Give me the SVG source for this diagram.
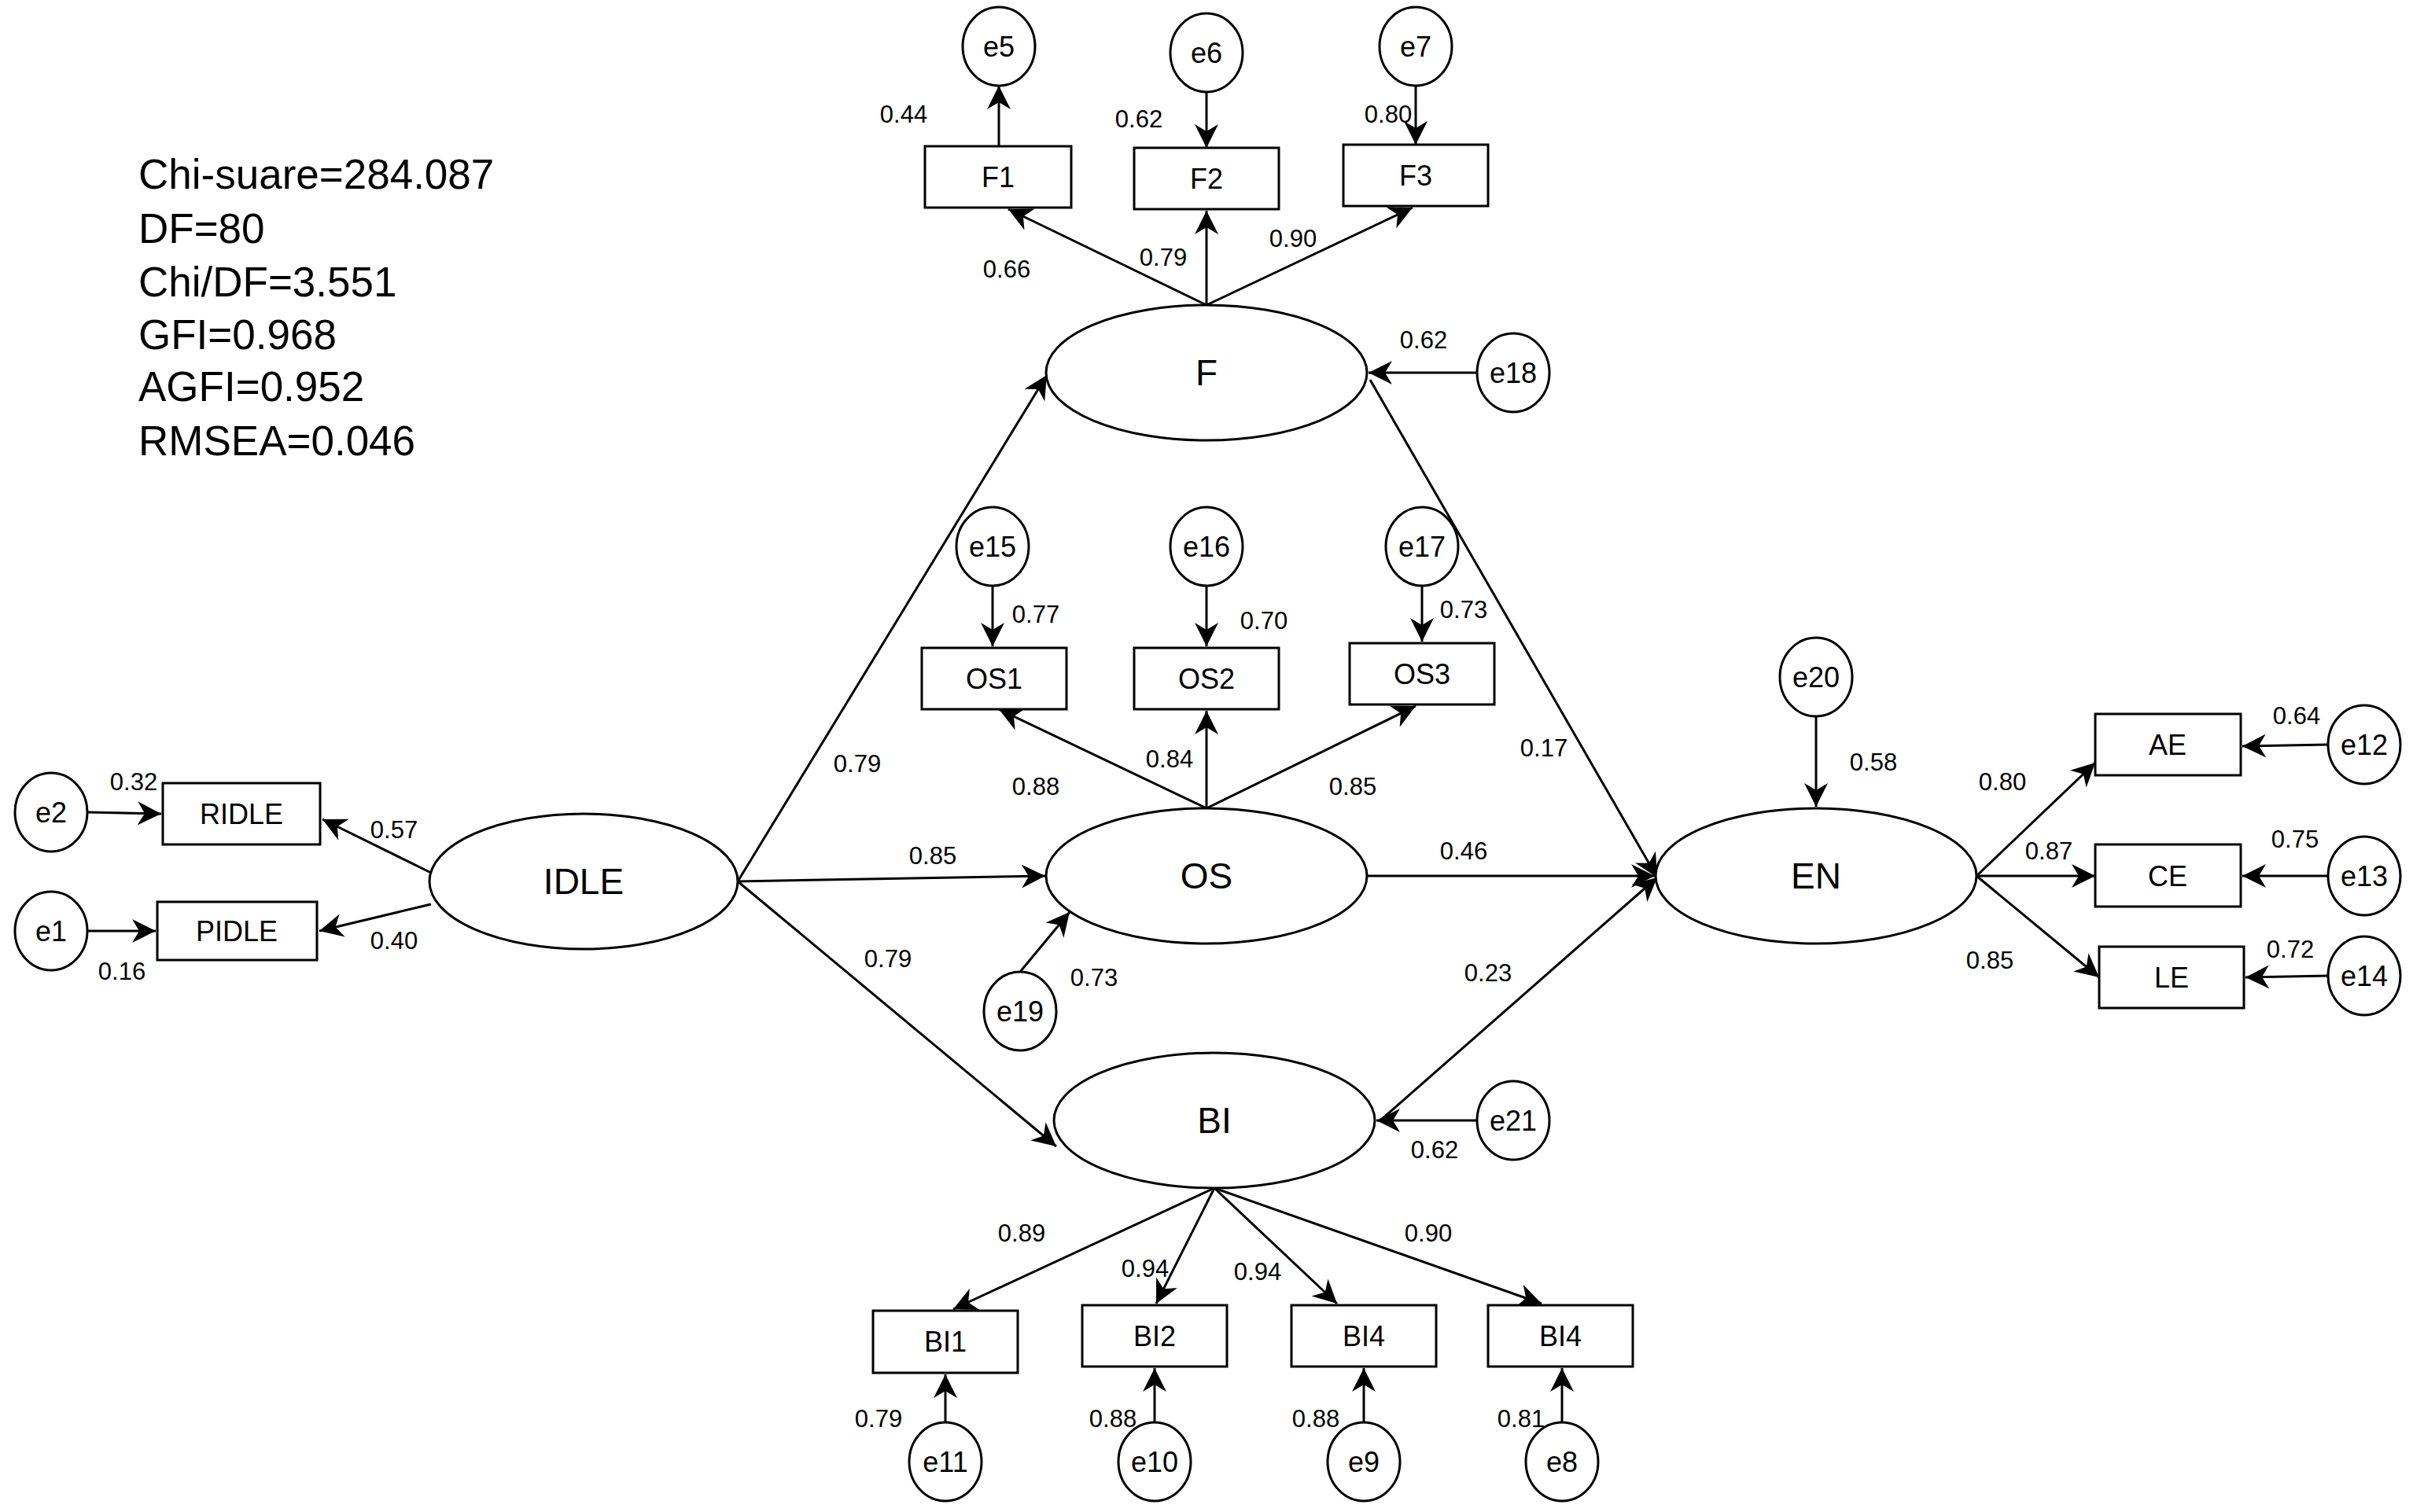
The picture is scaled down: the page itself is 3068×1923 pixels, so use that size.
<svg xmlns="http://www.w3.org/2000/svg" width="3068" height="1923" viewBox="0 0 3068 1923">
<defs><marker id="a" viewBox="0 0 10 10" refX="10" refY="5" markerWidth="9" markerHeight="9" markerUnits="userSpaceOnUse" orient="auto"><path d="M0,0 L10,5 L0,10 L3,5 z" fill="#000"/></marker>
<marker id="ah" viewBox="0 0 10 10" refX="10" refY="5" markerWidth="30" markerHeight="30" markerUnits="userSpaceOnUse" orient="auto"><path d="M0,0 L10,5 L0,10 L3,5 z" fill="#000"/></marker></defs>
<style>
text{font-family:"Liberation Sans",Arial,sans-serif;text-anchor:middle;dominant-baseline:central;fill:#000}
.n ellipse,.n rect{fill:#fff;stroke:#000;stroke-width:3}
.n text{font-size:36px}
.l text{font-size:46px}
.v{font-size:31px}
.s{font-size:53px;text-anchor:start}
#c line{stroke:#000;stroke-width:3;marker-end:url(#ah)}
</style>
<rect width="3068" height="1923" fill="#fff"/>
<g id="stats"><text class="s" x="176" y="221">Chi-suare=284.087</text><text class="s" x="176" y="290">DF=80</text><text class="s" x="176" y="358">Chi/DF=3.551</text><text class="s" x="176" y="425">GFI=0.968</text><text class="s" x="176" y="491">AGFI=0.952</text><text class="s" x="176" y="560">RMSEA=0.046</text></g>
<g id="c">
<line x1="1270" y1="186" x2="1270" y2="109"/>
<line x1="1534" y1="117" x2="1534" y2="188"/>
<line x1="1800" y1="109" x2="1800" y2="184"/>
<line x1="1534" y1="388" x2="1282" y2="266"/>
<line x1="1534" y1="388" x2="1534" y2="268"/>
<line x1="1534" y1="388" x2="1796" y2="264"/>
<line x1="1878" y1="474" x2="1740" y2="474"/>
<line x1="1262" y1="745" x2="1262" y2="822"/>
<line x1="1534" y1="745" x2="1534" y2="822"/>
<line x1="1808" y1="745" x2="1808" y2="816"/>
<line x1="1534" y1="1028" x2="1270" y2="902"/>
<line x1="1534" y1="1028" x2="1534" y2="904"/>
<line x1="1534" y1="1028" x2="1800" y2="898"/>
<line x1="1297" y1="1236" x2="1360" y2="1160"/>
<line x1="938" y1="1121" x2="1331" y2="477"/>
<line x1="938" y1="1121" x2="1329" y2="1114"/>
<line x1="938" y1="1121" x2="1343" y2="1458"/>
<line x1="1742" y1="483" x2="2107" y2="1116"/>
<line x1="1738" y1="1114" x2="2104" y2="1114"/>
<line x1="1755" y1="1425" x2="2107" y2="1116"/>
<line x1="1878" y1="1425" x2="1750" y2="1425"/>
<line x1="2309" y1="911" x2="2309" y2="1026"/>
<line x1="2513" y1="1114" x2="2664" y2="970"/>
<line x1="2513" y1="1114" x2="2664" y2="1114"/>
<line x1="2513" y1="1114" x2="2669" y2="1243"/>
<line x1="2960" y1="947" x2="2851" y2="949"/>
<line x1="2960" y1="1114" x2="2851" y2="1114"/>
<line x1="2960" y1="1241" x2="2855" y2="1243"/>
<line x1="548" y1="1110" x2="410" y2="1042"/>
<line x1="548" y1="1150" x2="406" y2="1184"/>
<line x1="111" y1="1033" x2="205" y2="1035"/>
<line x1="111" y1="1184" x2="198" y2="1184"/>
<line x1="1544" y1="1511" x2="1212" y2="1665"/>
<line x1="1544" y1="1511" x2="1470" y2="1658"/>
<line x1="1544" y1="1511" x2="1700" y2="1658"/>
<line x1="1544" y1="1511" x2="1960" y2="1658"/>
<line x1="1202" y1="1811" x2="1202" y2="1748"/>
<line x1="1468" y1="1811" x2="1468" y2="1740"/>
<line x1="1734" y1="1811" x2="1734" y2="1740"/>
<line x1="1986" y1="1811" x2="1986" y2="1740"/>
</g>
<g class="n l" id="F"><ellipse cx="1534" cy="474" rx="204" ry="86"/><text x="1534" y="474">F</text></g>
<g class="n l" id="OS"><ellipse cx="1534" cy="1114" rx="204" ry="86"/><text x="1534" y="1114">OS</text></g>
<g class="n l" id="IDLE"><ellipse cx="742" cy="1121" rx="196" ry="86"/><text x="742" y="1121">IDLE</text></g>
<g class="n l" id="BI"><ellipse cx="1544" cy="1425" rx="204" ry="86"/><text x="1544" y="1425">BI</text></g>
<g class="n l" id="EN"><ellipse cx="2309" cy="1114" rx="204" ry="86"/><text x="2309" y="1114">EN</text></g>
<g class="n" id="F1"><rect x="1176" y="186" width="186" height="78"/><text x="1269" y="225">F1</text></g>
<g class="n" id="F2"><rect x="1442" y="188" width="184" height="78"/><text x="1534" y="227">F2</text></g>
<g class="n" id="F3"><rect x="1708" y="184" width="184" height="78"/><text x="1800" y="223">F3</text></g>
<g class="n" id="OS1"><rect x="1172" y="824" width="184" height="78"/><text x="1264" y="863">OS1</text></g>
<g class="n" id="OS2"><rect x="1442" y="824" width="184" height="78"/><text x="1534" y="863">OS2</text></g>
<g class="n" id="OS3"><rect x="1716" y="818" width="184" height="78"/><text x="1808" y="857">OS3</text></g>
<g class="n" id="RIDLE"><rect x="207" y="996" width="200" height="78"/><text x="307" y="1035">RIDLE</text></g>
<g class="n" id="PIDLE"><rect x="200" y="1147" width="203" height="74"/><text x="301" y="1184">PIDLE</text></g>
<g class="n" id="BI1"><rect x="1110" y="1667" width="184" height="79"/><text x="1202" y="1706">BI1</text></g>
<g class="n" id="BI2"><rect x="1376" y="1660" width="184" height="78"/><text x="1468" y="1699">BI2</text></g>
<g class="n" id="BI4a"><rect x="1642" y="1660" width="184" height="78"/><text x="1734" y="1699">BI4</text></g>
<g class="n" id="BI4b"><rect x="1892" y="1660" width="184" height="78"/><text x="1984" y="1699">BI4</text></g>
<g class="n" id="AE"><rect x="2664" y="908" width="185" height="78"/><text x="2756" y="947">AE</text></g>
<g class="n" id="CE"><rect x="2664" y="1074" width="185" height="79"/><text x="2756" y="1114">CE</text></g>
<g class="n" id="LE"><rect x="2669" y="1204" width="184" height="78"/><text x="2761" y="1243">LE</text></g>
<g class="n" id="e5"><ellipse cx="1270" cy="59" rx="46" ry="50"/><text x="1270" y="59">e5</text></g>
<g class="n" id="e6"><ellipse cx="1534" cy="67" rx="46" ry="50"/><text x="1534" y="67">e6</text></g>
<g class="n" id="e7"><ellipse cx="1800" cy="59" rx="46" ry="50"/><text x="1800" y="59">e7</text></g>
<g class="n" id="e18"><ellipse cx="1924" cy="474" rx="46" ry="50"/><text x="1924" y="474">e18</text></g>
<g class="n" id="e15"><ellipse cx="1262" cy="695" rx="46" ry="50"/><text x="1262" y="695">e15</text></g>
<g class="n" id="e16"><ellipse cx="1534" cy="695" rx="46" ry="50"/><text x="1534" y="695">e16</text></g>
<g class="n" id="e17"><ellipse cx="1808" cy="695" rx="46" ry="50"/><text x="1808" y="695">e17</text></g>
<g class="n" id="e19"><ellipse cx="1297" cy="1286" rx="46" ry="50"/><text x="1297" y="1286">e19</text></g>
<g class="n" id="e2"><ellipse cx="65" cy="1033" rx="46" ry="50"/><text x="65" y="1033">e2</text></g>
<g class="n" id="e1"><ellipse cx="65" cy="1184" rx="46" ry="50"/><text x="65" y="1184">e1</text></g>
<g class="n" id="e21"><ellipse cx="1924" cy="1425" rx="46" ry="50"/><text x="1924" y="1425">e21</text></g>
<g class="n" id="e20"><ellipse cx="2309" cy="861" rx="46" ry="50"/><text x="2309" y="861">e20</text></g>
<g class="n" id="e12"><ellipse cx="3006" cy="947" rx="46" ry="50"/><text x="3006" y="947">e12</text></g>
<g class="n" id="e13"><ellipse cx="3006" cy="1114" rx="46" ry="50"/><text x="3006" y="1114">e13</text></g>
<g class="n" id="e14"><ellipse cx="3006" cy="1241" rx="46" ry="50"/><text x="3006" y="1241">e14</text></g>
<g class="n" id="e11"><ellipse cx="1202" cy="1859" rx="46" ry="50"/><text x="1202" y="1859">e11</text></g>
<g class="n" id="e10"><ellipse cx="1468" cy="1859" rx="46" ry="50"/><text x="1468" y="1859">e10</text></g>
<g class="n" id="e9"><ellipse cx="1734" cy="1859" rx="46" ry="50"/><text x="1734" y="1859">e9</text></g>
<g class="n" id="e8"><ellipse cx="1986" cy="1859" rx="46" ry="50"/><text x="1986" y="1859">e8</text></g>
<g id="labels">
<text class="v" x="1149" y="145">0.44</text><text class="v" x="1448" y="151">0.62</text><text class="v" x="1765" y="145">0.80</text>
<text class="v" x="1280" y="342">0.66</text><text class="v" x="1479" y="327">0.79</text><text class="v" x="1644" y="303">0.90</text><text class="v" x="1810" y="432">0.62</text>
<text class="v" x="1317" y="781">0.77</text><text class="v" x="1607" y="789">0.70</text><text class="v" x="1861" y="775">0.73</text>
<text class="v" x="1317" y="1000">0.88</text><text class="v" x="1487" y="965">0.84</text><text class="v" x="1720" y="1000">0.85</text>
<text class="v" x="1090" y="971">0.79</text><text class="v" x="1186" y="1088">0.85</text><text class="v" x="1129" y="1219">0.79</text>
<text class="v" x="1963" y="951">0.17</text><text class="v" x="1861" y="1082">0.46</text><text class="v" x="1892" y="1237">0.23</text><text class="v" x="2382" y="969">0.58</text>
<text class="v" x="2546" y="994">0.80</text><text class="v" x="2605" y="1082">0.87</text><text class="v" x="2530" y="1221">0.85</text>
<text class="v" x="2920" y="910">0.64</text><text class="v" x="2918" y="1067">0.75</text><text class="v" x="2912" y="1207">0.72</text>
<text class="v" x="170" y="994">0.32</text><text class="v" x="501" y="1055">0.57</text><text class="v" x="501" y="1196">0.40</text><text class="v" x="155" y="1235">0.16</text>
<text class="v" x="1391" y="1243">0.73</text><text class="v" x="1824" y="1462">0.62</text>
<text class="v" x="1299" y="1568">0.89</text><text class="v" x="1456" y="1613">0.94</text><text class="v" x="1599" y="1617">0.94</text><text class="v" x="1816" y="1568">0.90</text>
<text class="v" x="1117" y="1804">0.79</text><text class="v" x="1415" y="1804">0.88</text><text class="v" x="1673" y="1804">0.88</text><text class="v" x="1934" y="1804">0.81</text>
</g>
</svg>
